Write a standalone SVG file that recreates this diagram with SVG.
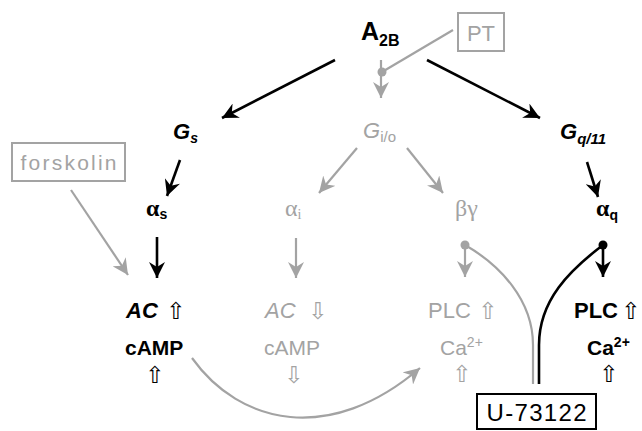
<svg xmlns="http://www.w3.org/2000/svg" width="642" height="431" viewBox="0 0 642 431">
<style>
text{font-family:"Liberation Sans","DejaVu Sans",sans-serif;}
.k{fill:#000;}
.g{fill:#a3a3a3;}
.b{font-weight:bold;}
.it{font-style:italic;}
.gr{font-family:"Liberation Serif","DejaVu Serif",serif;}
.sym{font-family:"DejaVu Sans",sans-serif;font-size:23px;text-anchor:middle;}
.lk{stroke:#000;stroke-width:2.6;fill:none;}
.lg{stroke:#a3a3a3;stroke-width:2.2;fill:none;}
.box{fill:#fff;stroke-width:2;}
</style>
<defs>
<marker id="ak" markerUnits="userSpaceOnUse" markerWidth="18" markerHeight="16" refX="16" refY="8" orient="auto" viewBox="0 0 18 16">
<path d="M0,0 L16,8 L0,16 L5,8 z" fill="#000"/>
</marker>
<marker id="ag" markerUnits="userSpaceOnUse" markerWidth="18" markerHeight="16" refX="16" refY="8" orient="auto" viewBox="0 0 18 16">
<path d="M0,0 L16,8 L0,16 L5,8 z" fill="#a3a3a3"/>
</marker>
</defs>

<g id="connectors">
<path class="lk" d="M335,60 L222,118" marker-end="url(#ak)"/>
<path class="lk" d="M427,60 L540,118" marker-end="url(#ak)"/>
<path class="lk" d="M180,160 L167,196" marker-end="url(#ak)"/>
<path class="lk" d="M157,237 L157,278" marker-end="url(#ak)"/>
<path class="lg" d="M71,190 L128,275" marker-end="url(#ag)"/>
<path class="lg" d="M381,60 L381,98" marker-end="url(#ag)"/>
<path class="lg" d="M453,30 L382,72"/>
<circle cx="382" cy="72" r="4.5" fill="#a3a3a3"/>
<path class="lg" d="M357,148 L319,193" marker-end="url(#ag)"/>
<path class="lg" d="M407,148 L443,193" marker-end="url(#ag)"/>
<path class="lg" d="M296,238 L296,278" marker-end="url(#ag)"/>
<path class="lg" d="M465,245 L465,277" marker-end="url(#ag)"/>
<circle cx="465" cy="245" r="4.5" fill="#a3a3a3"/>
<path class="lk" d="M587,162 L598,197" marker-end="url(#ak)"/>
<path class="lk" d="M603,245 L603,277" marker-end="url(#ak)"/>
<circle cx="603" cy="245" r="4.5" fill="#000"/>
<path class="lg" d="M192,358 C240,425 330,445 420,368" marker-end="url(#ag)"/>
<path class="lg" d="M533,384 L533,345 C533,300 500,265 465,245"/>
<path class="lk" d="M539,384 L539,345 C539,300 570,270 603,245"/>
</g>

<g id="A2B"><text class="k b" x="361" y="40" font-size="25">A<tspan font-size="16" dy="6">2B</tspan></text></g>
<g id="PT"><rect class="box" x="458" y="13" width="46" height="38" stroke="#a3a3a3"/><text class="g" x="481" y="41" font-size="22" text-anchor="middle">PT</text></g>
<g id="Gs"><text class="k b it" x="173" y="139" font-size="22">G<tspan font-size="14" dy="4">s</tspan></text></g>
<g id="Gio"><text class="g it" x="363" y="138" font-size="22">G<tspan font-size="15" dy="4" font-style="normal">i/o</tspan></text></g>
<g id="Gq11"><text class="k b it" x="560" y="139" font-size="22">G<tspan font-size="15" dy="5">q/11</tspan></text></g>
<g id="forskolin"><rect class="box" x="12" y="143" width="113" height="38" stroke="#a3a3a3"/><text class="g" x="68.5" y="170" font-size="21" text-anchor="middle" textLength="96" lengthAdjust="spacing">forskolin</text></g>
<g id="alpha_s"><text class="k b gr" x="146" y="216" font-size="24">α<tspan font-size="14" dy="3" style="font-family:'Liberation Sans',sans-serif">s</tspan></text></g>
<g id="alpha_i"><text class="g gr" x="285" y="216" font-size="24">α<tspan font-size="14" dy="3">i</tspan></text></g>
<g id="betagamma"><text class="g gr" x="455" y="216" font-size="24">βγ</text></g>
<g id="alpha_q"><text class="k b gr" x="596" y="216" font-size="24">α<tspan font-size="14" dy="4" style="font-family:'Liberation Sans',sans-serif">q</tspan></text></g>

<g id="Gs_effect">
<text class="k b it" x="126" y="318" font-size="22">AC</text>
<text class="k sym" x="176" y="319">⇧</text>
<text class="k b" x="125" y="355" font-size="21">cAMP</text>
<text class="k sym" x="155" y="383">⇧</text>
</g>
<g id="Gi_effect">
<text class="g it" x="265" y="318" font-size="22">AC</text>
<text class="g sym" x="318" y="319">⇩</text>
<text class="g" x="264" y="355" font-size="21">cAMP</text>
<text class="g sym" x="294" y="383">⇩</text>
</g>
<g id="bg_effect">
<text class="g" x="428" y="318" font-size="22">PLC</text>
<text class="g sym" x="488" y="319">⇧</text>
<text class="g" x="440" y="355" font-size="21">Ca<tspan font-size="14" dy="-8">2+</tspan></text>
<text class="g sym" x="462" y="382">⇧</text>
</g>
<g id="Gq_effect">
<text class="k b" x="574" y="318" font-size="22">PLC</text>
<text class="k sym" x="631" y="319">⇧</text>
<text class="k b" x="587" y="355" font-size="21">Ca<tspan font-size="14" dy="-8">2+</tspan></text>
<text class="k sym" x="609" y="382">⇧</text>
</g>
<g id="U73122"><rect class="box" x="477" y="394" width="119" height="35" stroke="#000"/><text class="k" x="536.5" y="421" font-size="24" text-anchor="middle" textLength="100" lengthAdjust="spacing">U-73122</text></g>
</svg>
